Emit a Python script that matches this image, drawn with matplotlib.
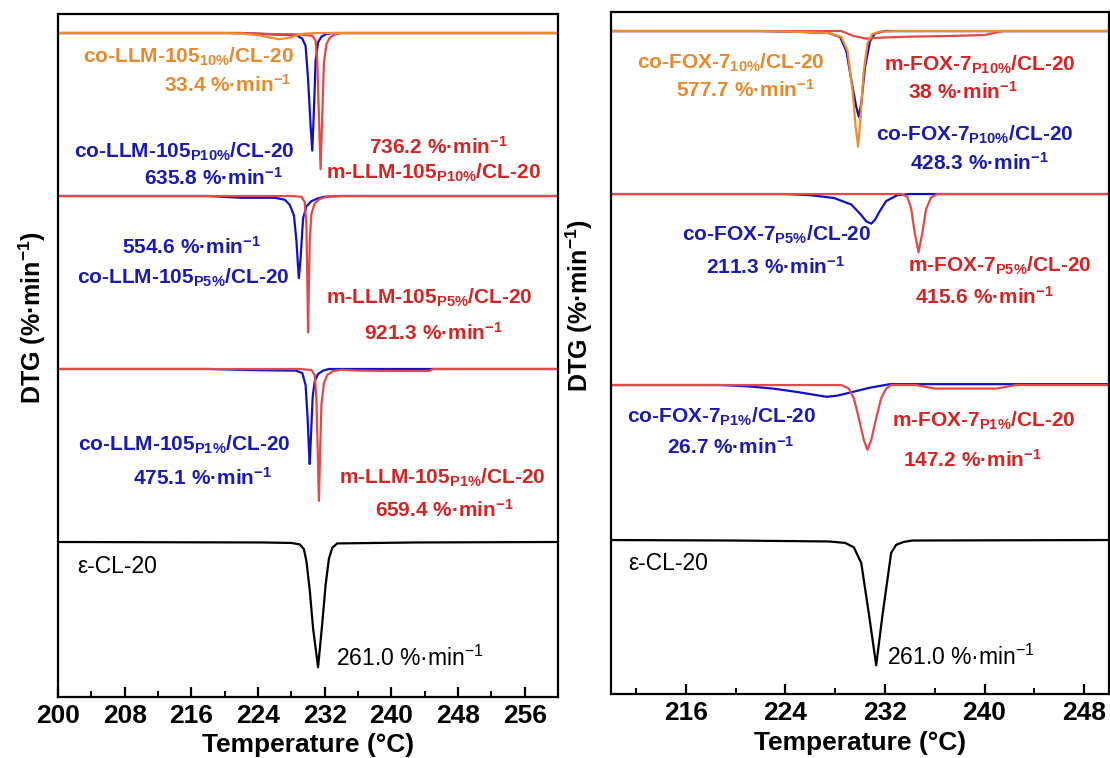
import matplotlib
matplotlib.use("Agg")
import matplotlib.pyplot as plt
import numpy as np
from matplotlib.ticker import MultipleLocator

plt.rcParams["font.family"] = ["Liberation Sans", "DejaVu Sans"]
plt.rcParams["mathtext.default"] = "regular"

ORANGE = "#F08C28"
BLUE = "#1010C8"
RED = "#E44848"
ORANGE_TXT = "#E8892E"
BLUE_TXT = "#1A1AB4"
RED_TXT = "#D42424"

# ---------------- DTG curves: temperature (°C) / rate (%·min-1) ----------------
# LLM-105 series
LLM_CO10_T = [200, 220, 222, 224, 225.5, 226.5, 227.5, 228.5, 229.5, 231, 260]
LLM_CO10_V = [0, 0, -3, -12, -25, -33.4, -28, -15, -4, 0, 0]

LLM_COP10_T = [200, 222, 226, 228.5, 229.3, 229.7, 230.0, 230.3, 230.5, 230.7, 230.9, 231.2, 231.6, 232.2, 233, 260]
LLM_COP10_V = [0, 0, -8, -10, -30, -70, -250, -500, -635.8, -420, -150, -50, -20, -5, 0, 0]

LLM_MP10_T = [200, 222, 226, 229, 230.5, 230.9, 231.1, 231.3, 231.5, 231.7, 231.9, 232.2, 232.6, 233.2, 234, 260]
LLM_MP10_V = [0, 0, -6, -8, -15, -40, -150, -450, -736.2, -450, -160, -60, -25, -8, 0, 0]

LLM_COP5_T = [200, 218, 222, 226, 227.2, 227.8, 228.3, 228.6, 228.8, 228.9, 229.1, 229.4, 229.8, 230.4, 231.2, 232, 234, 260]
LLM_COP5_V = [0, 0, -12, -12, -25, -60, -130, -300, -480, -554.6, -420, -150, -70, -35, -15, -5, 0, 0]

LLM_MP5_T = [200, 228, 229.2, 229.6, 229.8, 229.9, 230.0, 230.1, 230.2, 230.4, 230.8, 231.4, 232.2, 233, 260]
LLM_MP5_V = [0, 0, -5, -40, -200, -550, -921.3, -600, -300, -120, -50, -20, -6, 0, 0]

LLM_COP1_T = [200, 218, 224, 228.5, 229.3, 229.7, 229.95, 230.1, 230.2, 230.35, 230.55, 230.8, 231.2, 231.8, 232.5, 260]
LLM_COP1_V = [0, 0, -6, -8, -20, -80, -250, -400, -475.1, -330, -140, -60, -25, -8, 0, 0]

LLM_MP1_T = [200, 229, 230.4, 230.8, 231.0, 231.15, 231.3, 231.45, 231.6, 231.9, 232.3, 233.0, 234, 236, 240, 244.5, 245, 260]
LLM_MP1_V = [0, 0, -5, -30, -150, -400, -659.4, -400, -180, -70, -30, -10, -4, -8, -10, -10, 0, 0]

CL20_L_T = [200, 224.5, 228, 229.0, 229.5, 229.8, 230.2, 230.6, 231.2, 231.7, 232.1, 232.5, 232.9, 233.5, 242.8, 260]
CL20_L_V = [0, -1, -2, -5, -15, -40, -100, -180, -261.0, -170, -90, -35, -12, -3, -1, 0]

# FOX-7 series
FOX_CO10_T = [210, 222, 225, 227.5, 228.5, 229.0, 229.4, 229.65, 229.85, 230.05, 230.3, 230.6, 231.0, 231.6, 233, 250]
FOX_CO10_V = [0, 0, -4, -10, -30, -100, -300, -480, -577.7, -420, -200, -60, -15, -3, 0, 0]

FOX_COP10_T = [210, 222, 225, 227.5, 228.4, 228.9, 229.4, 229.7, 229.9, 230.1, 230.4, 230.8, 231.2, 232, 250]
FOX_COP10_V = [0, 0, -4, -10, -30, -100, -280, -380, -428.3, -360, -180, -50, -12, 0, 0]

FOX_MP10_T = [210, 228.5, 229.5, 230.5, 232, 234, 237, 240, 241.5, 250]
FOX_MP10_V = [0, 0, -25, -38, -32, -28, -25, -20, 0, 0]

FOX_COP5_T = [210, 224, 226, 227.9, 229.3, 230.1, 230.5, 230.9, 231.2, 231.5, 232.1, 233.0, 234, 250]
FOX_COP5_V = [0, 0, -8, -28, -75, -150, -195, -211.3, -185, -135, -50, -8, 0, 0]

FOX_MP5_T = [210, 233.3, 233.8, 234.1, 234.4, 234.7, 235.0, 235.3, 235.7, 236.2, 250]
FOX_MP5_V = [0, 0, -20, -100, -280, -415.6, -280, -110, -25, 0, 0]

FOX_COP1_T = [210, 218.8, 221, 223, 225, 226.5, 227.3, 228.2, 229.5, 230.8, 232.4, 250]
FOX_COP1_V = [0, 0, -3, -8, -16, -23, -26.7, -24, -15, -6, 2, 2]

FOX_MP1_T = [210, 228.5, 229.1, 229.5, 229.9, 230.3, 230.6, 230.9, 231.3, 231.7, 232.1, 232.5, 234.5, 236, 241, 242.5, 250]
FOX_MP1_V = [0, 0, -8, -30, -75, -125, -147.2, -125, -75, -30, -8, 0, 0, -8, -8, 0, 0]

CL20_R_T = [210, 219.7, 227.5, 228.8, 229.5, 230.1, 230.7, 231.3, 231.8, 232.5, 232.9, 233.5, 234.2, 250]
CL20_R_V = [0, -1, -3, -6, -15, -48, -152, -261.0, -157, -27, -10, -4, -1, 0]

# ---------------- annotation text ----------------
MIN = r"%·min$^{-1}$"
LEFT_TEXT = [
    (r"co-LLM-105$_{10\%}$/CL-20", ORANGE_TXT, "bold"),
    ("33.4 " + MIN, ORANGE_TXT, "bold"),
    (r"co-LLM-105$_{P10\%}$/CL-20", BLUE_TXT, "bold"),
    ("635.8 " + MIN, BLUE_TXT, "bold"),
    ("736.2 " + MIN, RED_TXT, "bold"),
    (r"m-LLM-105$_{P10\%}$/CL-20", RED_TXT, "bold"),
    ("554.6 " + MIN, BLUE_TXT, "bold"),
    (r"co-LLM-105$_{P5\%}$/CL-20", BLUE_TXT, "bold"),
    (r"m-LLM-105$_{P5\%}$/CL-20", RED_TXT, "bold"),
    ("921.3 " + MIN, RED_TXT, "bold"),
    (r"co-LLM-105$_{P1\%}$/CL-20", BLUE_TXT, "bold"),
    ("475.1 " + MIN, BLUE_TXT, "bold"),
    (r"m-LLM-105$_{P1\%}$/CL-20", RED_TXT, "bold"),
    ("659.4 " + MIN, RED_TXT, "bold"),
    ("ε-CL-20", "black", "normal"),
    ("261.0 " + MIN, "black", "normal"),
]
LEFT_TEXT_POS = [
    (215.6, -43), (220.4, -71), (215.1, -138), (218.6, -164),
    (245.7, -133), (245.1, -159), (216.0, -233), (215.0, -264),
    (244.6, -284), (245.1, -319), (215.2, -431), (217.3, -464),
    (246.1, -464), (246.3, -496), (207.1, -553), (242.2, -644),
]

RIGHT_TEXT = [
    (r"co-FOX-7$_{10\%}$/CL-20", ORANGE_TXT, "bold"),
    ("577.7 " + MIN, ORANGE_TXT, "bold"),
    (r"m-FOX-7$_{P10\%}$/CL-20", RED_TXT, "bold"),
    ("38 " + MIN, RED_TXT, "bold"),
    (r"co-FOX-7$_{P10\%}$/CL-20", BLUE_TXT, "bold"),
    ("428.3 " + MIN, BLUE_TXT, "bold"),
    (r"co-FOX-7$_{P5\%}$/CL-20", BLUE_TXT, "bold"),
    ("211.3 " + MIN, BLUE_TXT, "bold"),
    (r"m-FOX-7$_{P5\%}$/CL-20", RED_TXT, "bold"),
    ("415.6 " + MIN, RED_TXT, "bold"),
    (r"co-FOX-7$_{P1\%}$/CL-20", BLUE_TXT, "bold"),
    ("26.7 " + MIN, BLUE_TXT, "bold"),
    (r"m-FOX-7$_{P1\%}$/CL-20", RED_TXT, "bold"),
    ("147.2 " + MIN, RED_TXT, "bold"),
    ("ε-CL-20", "black", "normal"),
    ("261.0 " + MIN, "black", "normal"),
]
RIGHT_TEXT_POS = [
    (219.6, -51), (220.8, -78), (239.6, -53), (238.3, -80),
    (239.2, -123), (239.6, -151), (223.3, -223), (223.2, -255),
    (241.2, -254), (240.0, -285), (218.9, -405), (219.6, -435),
    (239.9, -409), (239.0, -448), (214.6, -551), (238.1, -645),
]

# stacking: baseline offset and display scale for each group (top to bottom)
LEFT_OFFSETS = [-19, -182, -355, -528]
LEFT_SCALES = [0.185, 0.148, 0.2, 0.48]
RIGHT_OFFSETS = [-19, -182, -373, -528]
RIGHT_SCALES = [0.2, 0.14, 0.44, 0.48]

LEFT_CURVES = [
    # (group, T, V, color)
    (0, LLM_COP10_T, LLM_COP10_V, BLUE),
    (0, LLM_MP10_T, LLM_MP10_V, RED),
    (0, LLM_CO10_T, LLM_CO10_V, ORANGE),
    (1, LLM_COP5_T, LLM_COP5_V, BLUE),
    (1, LLM_MP5_T, LLM_MP5_V, RED),
    (2, LLM_COP1_T, LLM_COP1_V, BLUE),
    (2, LLM_MP1_T, LLM_MP1_V, RED),
    (3, CL20_L_T, CL20_L_V, "black"),
]
RIGHT_CURVES = [
    (0, FOX_COP10_T, FOX_COP10_V, BLUE),
    (0, FOX_MP10_T, FOX_MP10_V, RED),
    (0, FOX_CO10_T, FOX_CO10_V, ORANGE),
    (1, FOX_COP5_T, FOX_COP5_V, BLUE),
    (1, FOX_MP5_T, FOX_MP5_V, RED),
    (2, FOX_COP1_T, FOX_COP1_V, BLUE),
    (2, FOX_MP1_T, FOX_MP1_V, RED),
    (3, CL20_R_T, CL20_R_V, "black"),
]


def draw_panel(ax, curves, offsets, scales, texts, text_pos, xlim, major, ylim, label_xy):
    for group, t, v, color in curves:
        y = offsets[group] + scales[group] * np.asarray(v, dtype=float)
        ax.plot(t, y, color=color, lw=1.6, solid_joinstyle="round")
    for (txt, color, weight), (x, y) in zip(texts, text_pos):
        size = 15 if weight == "bold" else 16.5
        ax.text(x, y, txt, color=color, fontsize=size, fontweight=weight,
                ha="center", va="center")

    ax.set_xlim(*xlim)
    ax.set_ylim(*ylim)
    ax.set_yticks([])
    ax.xaxis.set_minor_locator(MultipleLocator(4))
    ax.set_xticks(major)
    ax.tick_params(axis="x", which="major", direction="in", length=7, width=1.6,
                   labelsize=19, pad=5)
    ax.tick_params(axis="x", which="minor", direction="in", length=4, width=1.4)
    for lab in ax.get_xticklabels():
        lab.set_fontweight("bold")
    for sp in ax.spines.values():
        sp.set_linewidth(1.6)
    ax.set_xlabel("Temperature (°C)", fontsize=19, fontweight="bold", labelpad=4)
    ax.set_ylabel(r"DTG (%·min$^{-1}$)", fontsize=18, fontweight="bold")
    ax.yaxis.set_label_coords(*label_xy)


fig = plt.figure(figsize=(11.1, 7.58), dpi=100)
ax_l = fig.add_axes([0.0523, 0.0805, 0.4505, 0.901])
ax_r = fig.add_axes([0.5505, 0.0844, 0.4486, 0.8997])

draw_panel(ax_l, LEFT_CURVES, LEFT_OFFSETS, LEFT_SCALES, LEFT_TEXT, LEFT_TEXT_POS,
           (200, 260), list(range(200, 257, 8)), (-683, 0), (-0.02, 0.556))
draw_panel(ax_r, RIGHT_CURVES, RIGHT_OFFSETS, RIGHT_SCALES, RIGHT_TEXT, RIGHT_TEXT_POS,
           (210, 250), list(range(216, 249, 8)), (-682, 0), (-0.032, 0.570))

fig.savefig("out.png", dpi=100)
